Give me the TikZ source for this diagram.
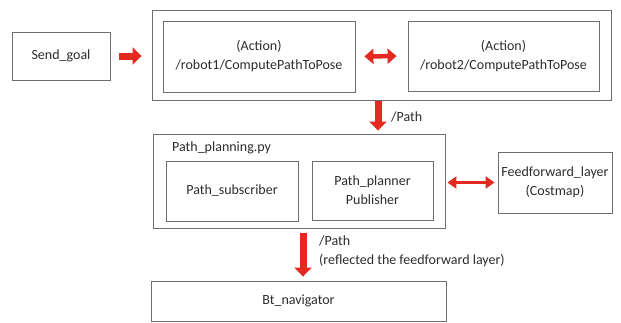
\documentclass[tikz,border=0pt]{standalone}
\usepackage{fontspec}
\setmainfont{Carlito}
\usetikzlibrary{arrows.meta}
\definecolor{boxline}{RGB}{110,110,110}
\definecolor{txt}{RGB}{45,45,45}
\definecolor{arrred}{RGB}{228,42,32}
\tikzset{
  box/.style={draw=boxline, line width=0.9pt, rectangle, align=center, text=txt, font=\fontsize{14}{19}\selectfont, inner sep=0pt},
  lbl/.style={text=txt, font=\fontsize{14}{19}\selectfont, inner sep=0pt, align=left},
  bigarrow/.style={draw=arrred, line width=7pt, -{Triangle[length=9pt,width=17pt]}},
  dblarrow/.style={draw=arrred, line width=4.5pt, {Triangle[length=9pt,width=15pt]}-{Triangle[length=9pt,width=15pt]}},
  thinarrow/.style={draw=arrred, line width=3.5pt, {Triangle[length=9pt,width=12pt]}-{Triangle[length=9pt,width=12pt]}}
}
\begin{document}
\begin{tikzpicture}[x=1pt,y=-1pt]
\useasboundingbox[fill=white] (0,0) rectangle (621,322);
\node[box, minimum width=98pt, minimum height=48pt] (sendgoal) at (61,56) {Send\_goal};
\node[box, minimum width=459pt, minimum height=90pt] (outer) at (381.5,55) {};
\node[box, minimum width=192pt, minimum height=71pt] (robot1) at (259,56.5) {(Action)\\/robot1/ComputePathToPose};
\node[box, minimum width=191pt, minimum height=70pt] (robot2) at (503.5,56) {(Action)\\/robot2/ComputePathToPose};
\node[box, minimum width=292pt, minimum height=94pt] (pp) at (299,181) {};
\node[lbl, anchor=west] (pplabel) at (172,148) {Path\_planning.py};
\node[box, minimum width=132pt, minimum height=60pt] (sub) at (232,191) {Path\_subscriber};
\node[box, minimum width=121pt, minimum height=59pt] (planner) at (372.5,190.5) {Path\_planner\\Publisher};
\node[box, minimum width=114pt, minimum height=61pt] (ff) at (555,182.5) {Feedforward\_layer\\(Costmap)};
\node[box, minimum width=295pt, minimum height=40pt] (bt) at (298.5,301) {Bt\_navigator};
\node[lbl, anchor=west] (path1) at (391,117) {/Path};
\node[lbl, anchor=north west] (path2) at (319,236) {/Path\\(reflected the feedforward layer)};
% connectors
\draw[bigarrow, shorten <=9pt, shorten >=10pt] (sendgoal.east) -- (sendgoal.east -| outer.west);
\draw[dblarrow, shorten <=9pt, shorten >=11pt] (robot1.east) -- (robot2.west);
\draw[bigarrow, shorten <=1pt, shorten >=3pt] ([xshift=-3.5pt]outer.south) -- ([xshift=-3.5pt]outer.south |- pp.north);
\draw[thinarrow, shorten <=2pt, shorten >=3pt] (ff.west -| pp.east) -- (ff.west);
\draw[bigarrow, shorten <=5pt, shorten >=4pt] ([xshift=4pt]pp.south) -- ([xshift=4pt]pp.south |- bt.north);
\end{tikzpicture}
\end{document}
